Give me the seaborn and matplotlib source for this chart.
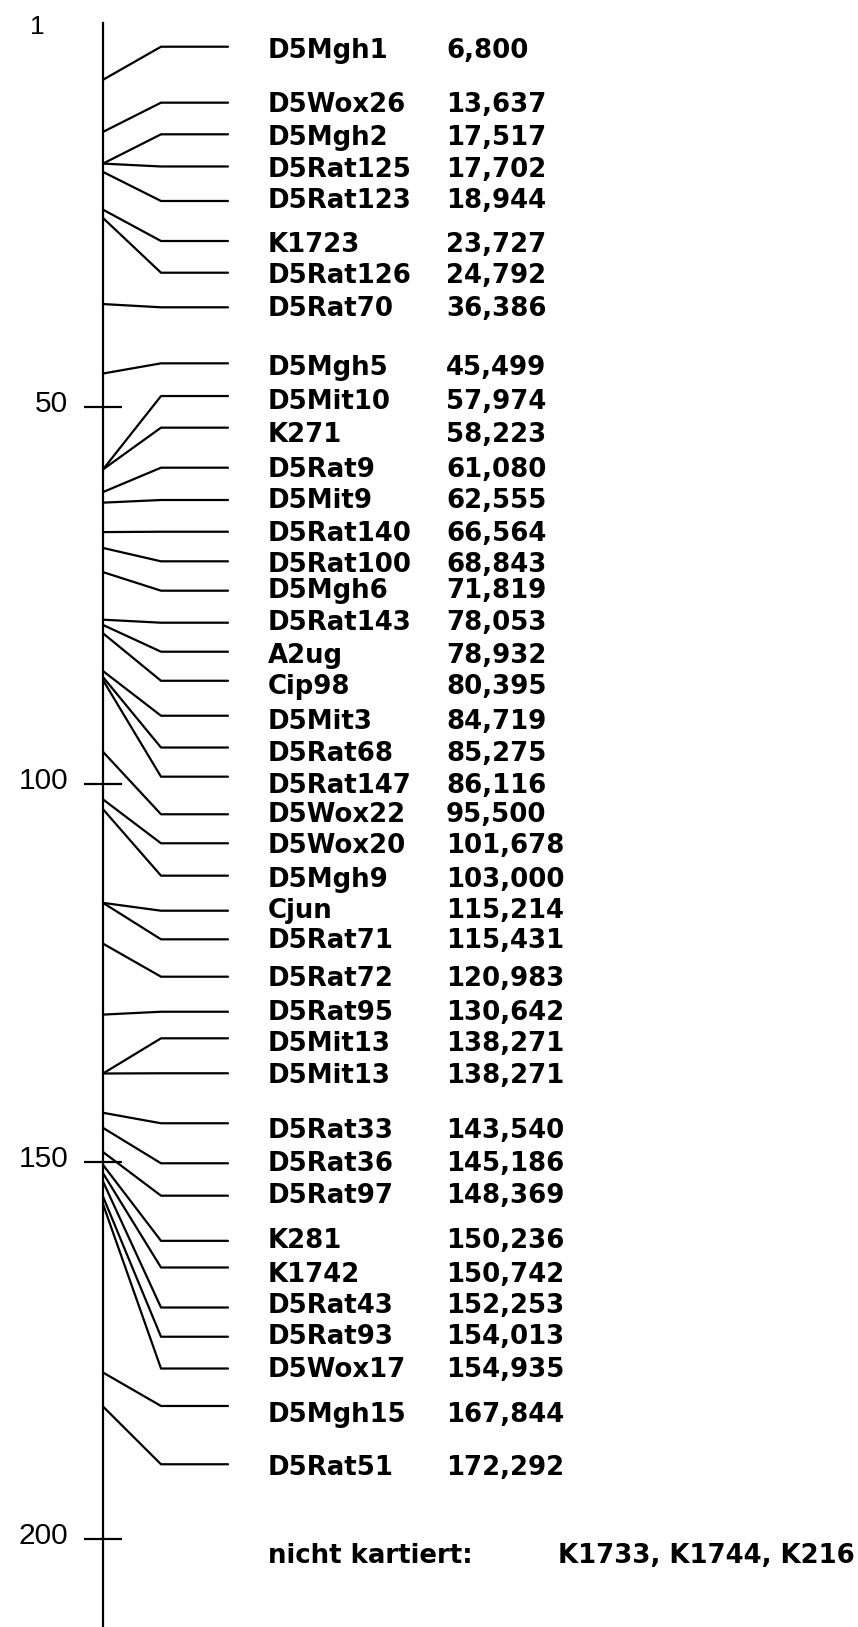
import matplotlib
matplotlib.use("Agg")
import matplotlib.pyplot as plt
import matplotlib.transforms as mtransforms
import numpy as np
import pandas as pd
import seaborn as sns

# ---------------- data ----------------
markers = ["D5Mgh1", "D5Wox26", "D5Mgh2", "D5Rat125", "D5Rat123", "K1723", "D5Rat126",
           "D5Rat70", "D5Mgh5", "D5Mit10", "K271", "D5Rat9", "D5Mit9", "D5Rat140",
           "D5Rat100", "D5Mgh6", "D5Rat143", "A2ug", "Cip98", "D5Mit3", "D5Rat68",
           "D5Rat147", "D5Wox22", "D5Wox20", "D5Mgh9", "Cjun", "D5Rat71", "D5Rat72",
           "D5Rat95", "D5Mit13", "D5Mit13", "D5Rat33", "D5Rat36", "D5Rat97", "K281",
           "K1742", "D5Rat43", "D5Rat93", "D5Wox17", "D5Mgh15", "D5Rat51"]

# printed positions (cM)
printed_pos = [6.800, 13.637, 17.517, 17.702, 18.944, 23.727, 24.792, 36.386, 45.499,
               57.974, 58.223, 61.080, 62.555, 66.564, 68.843, 71.819, 78.053, 78.932,
               80.395, 84.719, 85.275, 86.116, 95.500, 101.678, 103.000, 115.214,
               115.431, 120.983, 130.642, 138.271, 138.271, 143.540, 145.186, 148.369,
               150.236, 150.742, 152.253, 154.013, 154.935, 167.844, 172.292]

# positions where the marker is attached on the drawn map axis (cM)
map_pos = [6.7, 13.6, 17.8, 17.8, 18.9, 23.9, 25.0, 36.4, 45.6, 58.3, 58.3, 61.3, 62.7,
           66.6, 68.7, 71.9, 78.2, 78.9, 80.0, 85.0, 85.8, 86.2, 95.7, 102.0, 103.3,
           115.7, 115.7, 121.1, 130.5, 138.3, 138.3, 143.5, 145.5, 148.7, 150.4, 151.5,
           152.6, 154.6, 155.6, 177.9, 182.4]

axis_ticks = [50, 100, 150, 200]
axis_tick_labels = ["50", "100", "150", "200"]
unmapped_title = "nicht kartiert:"
unmapped = ["K1733", "K1744", "K216"]

# ---------------- layout (label rows, in map units) ----------------
line_rows = [2.32, 9.73, 13.92, 18.18, 22.75, 28.05, 32.25, 36.83, 44.25, 48.58, 52.77,
             58.07, 62.35, 66.55, 70.47, 74.36, 78.60, 82.44, 86.29, 90.92, 95.13, 98.99,
             103.97, 107.81, 112.10, 116.74, 120.53, 125.48, 130.12, 133.64, 138.27,
             144.89, 150.19, 154.48, 160.46, 163.99, 169.29, 173.16, 177.37, 182.33,
             190.05]
text_rows = [3.85, 10.93, 15.34, 19.53, 23.68, 29.47, 33.65, 37.98, 45.80, 50.34, 54.63,
             59.26, 63.45, 67.74, 71.84, 75.37, 79.57, 83.90, 88.08, 92.72, 96.87, 101.19,
             104.95, 109.14, 113.56, 117.71, 121.72, 126.71, 131.21, 135.28, 139.60,
             146.88, 151.17, 155.49, 161.45, 165.87, 170.06, 174.12, 178.53, 184.41,
             191.47]
unmapped_row = 203.16

W, H = 858, 1627
PX0, PXU = 29.2, 7.551          # pixel of 0 cM, pixels per cM
Y_TOP = (0 - PX0) / PXU
Y_BOT = (H - PX0) / PXU
AXIS_X, ELBOW_X, END_X = 103, 161, 228
NAME_X, NUM_X = 268, 446
LW = 1.6

sns.set_style("white")
plt.rcParams["font.family"] = ["DejaVu Sans"]
plt.rcParams["text.color"] = "black"

fig = plt.figure(figsize=(W / 100, H / 100), dpi=100)
ax = fig.add_axes([0, 0, 1, 1])

rows = []
for i, (mp, lr) in enumerate(zip(map_pos, line_rows)):
    rows += [(i, AXIS_X, mp), (i, ELBOW_X, lr), (i, END_X, lr)]
df = pd.DataFrame(rows, columns=["id", "x", "y"])

sns.lineplot(data=df, x="x", y="y", units="id", estimator=None, sort=False,
             color="black", linewidth=LW, ax=ax, legend=False)

ax.set_xlim(0, W)
ax.set_ylim(Y_BOT, Y_TOP)
ax.set_xlabel("")
ax.set_ylabel("")
ax.set_facecolor("white")

for s in ["top", "right", "bottom"]:
    ax.spines[s].set_visible(False)
ax.spines["left"].set_position(("data", AXIS_X))
ax.spines["left"].set_bounds((22.7 - PX0) / PXU, Y_BOT)
ax.spines["left"].set_linewidth(LW)
ax.spines["left"].set_color("black")
ax.set_xticks([])
ax.set_yticks(axis_ticks)
ax.set_yticklabels(axis_tick_labels)
ax.tick_params(axis="y", left=True, labelleft=True, direction="inout", length=26.9,
               width=LW, color="black", labelcolor="black", pad=11.5, labelsize=21.5)
offset = mtransforms.ScaledTranslation(0, 6 / 100, fig.dpi_scale_trans)
for lab in ax.get_yticklabels():
    lab.set_fontfamily(["Liberation Sans", "DejaVu Sans"])
    lab.set_transform(lab.get_transform() + offset)

ax.text(37.5, (34 - PX0) / PXU, "1", fontsize=19, family=["Liberation Sans", "DejaVu Sans"],
        ha="center", va="baseline", color="black")

bold = dict(fontsize=18.7, fontweight="bold", family=["DejaVu Sans"], va="baseline",
            ha="left", color="black")
for name, val, tr in zip(markers, printed_pos, text_rows):
    ax.text(NAME_X, tr, name, **bold)
    ax.text(NUM_X, tr, f"{val:.3f}".replace(".", ","), **bold)

ax.text(NAME_X, unmapped_row, unmapped_title, **bold)
ax.text(557.7, unmapped_row, ", ".join(unmapped), **bold)

fig.savefig("out.png", dpi=100, facecolor="white")
